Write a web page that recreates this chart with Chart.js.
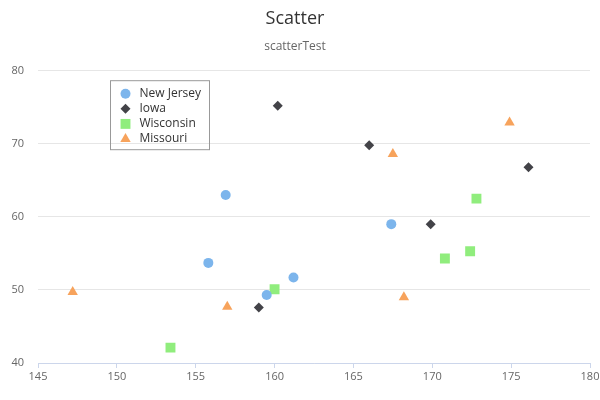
<!DOCTYPE html>
<html>
<head>
<meta charset="utf-8">
<script src="https://cdn.jsdelivr.net/npm/chart.js@4/dist/chart.umd.min.js"></script>
<style>
    html, body { margin: 0; padding: 0; background: #fff; }
    #wrap { width: 600px; height: 400px; position: relative; }
</style>
</head>
<body>
<div id="wrap"><canvas id="scatterChart"></canvas></div>
<script>
// series names and values
const seriesNames = ['New Jersey', 'Iowa', 'Wisconsin', 'Missouri'];

const newJersey = [
    { x: 156.9, y: 63.0 },
    { x: 155.8, y: 53.7 },
    { x: 159.5, y: 49.3 },
    { x: 161.2, y: 51.7 },
    { x: 167.4, y: 59.0 }
];
const iowa = [
    { x: 160.2, y: 75.2 },
    { x: 166.0, y: 69.8 },
    { x: 169.9, y: 59.0 },
    { x: 176.1, y: 66.8 },
    { x: 159.0, y: 47.6 }
];
const wisconsin = [
    { x: 153.4, y: 42.1 },
    { x: 160.0, y: 50.1 },
    { x: 170.8, y: 54.3 },
    { x: 172.4, y: 55.3 },
    { x: 172.8, y: 62.5 }
];
const missouri = [
    { x: 147.2, y: 49.7 },
    { x: 157.0, y: 47.7 },
    { x: 167.5, y: 68.6 },
    { x: 168.2, y: 49.0 },
    { x: 174.9, y: 72.9 }
];

const xTicks = [145, 150, 155, 160, 165, 170, 175, 180];
const yTicks = [40, 50, 60, 70, 80];

const FONT = '"Open Sans", "DejaVu Sans", sans-serif';

function makeSet(label, data, color, style, radius) {
    return {
        label: label,
        data: data,
        backgroundColor: color,
        borderColor: color,
        borderWidth: 0,
        pointStyle: style,
        pointRadius: radius,
        pointHoverRadius: radius
    };
}

// legend box floating inside the plot area, top left
const floatingLegend = {
    id: 'floatingLegend',
    afterDraw(chart) {
        const ctx = chart.ctx;
        const area = chart.chartArea;
        const bx = area.left + 72.5, by = area.top + 10;
        const bw = 99, bh = 69;

        ctx.save();
        ctx.strokeStyle = '#999999';
        ctx.lineWidth = 1;
        ctx.strokeRect(bx, by, bw, bh);

        ctx.font = '12px ' + FONT;
        ctx.textBaseline = 'middle';
        ctx.textAlign = 'left';

        chart.data.datasets.forEach((ds, i) => {
            const cy = by + 13 + i * 15.1;
            const cx = bx + 15;
            ctx.fillStyle = ds.backgroundColor;
            ctx.strokeStyle = ds.backgroundColor;
            Chart.helpers.drawPoint(ctx, {
                pointStyle: ds.pointStyle,
                radius: ds.pointRadius,
                rotation: 0,
                borderWidth: 0
            }, cx, cy);
            ctx.fillStyle = '#333333';
            ctx.fillText(ds.label, bx + 29, cy);
        });
        ctx.restore();
    }
};

const config = {
    type: 'scatter',
    data: {
        datasets: [
            makeSet(seriesNames[0], newJersey, '#7cb5ec', 'circle', 5),
            makeSet(seriesNames[1], iowa, '#434348', 'rectRot', 5),
            makeSet(seriesNames[2], wisconsin, '#90ed7d', 'rect', 7),
            makeSet(seriesNames[3], missouri, '#f7a35c', 'triangle', 6)
        ]
    },
    options: {
        responsive: true,
        maintainAspectRatio: false,
        animation: false,
        events: [],
        layout: {
            padding: { left: 0, right: 10, top: 0, bottom: 0 }
        },
        plugins: {
            legend: { display: false },
            tooltip: { enabled: false },
            title: {
                display: true,
                text: 'Scatter',
                color: '#333333',
                font: { family: FONT, size: 18, weight: 'normal' },
                padding: { top: 8, bottom: 10 }
            },
            subtitle: {
                display: true,
                text: 'scatterTest',
                color: '#666666',
                font: { family: FONT, size: 12, weight: 'normal' },
                padding: { top: 0, bottom: 16.7 }
            }
        },
        scales: {
            x: {
                type: 'linear',
                position: 'bottom',
                min: xTicks[0],
                max: xTicks[xTicks.length - 1],
                afterBuildTicks: (scale) => {
                    scale.ticks = xTicks.map(v => ({ value: v }));
                },
                afterFit: (scale) => {
                    scale.height = 37;
                    // let the layout padding alone decide the right edge
                    scale.paddingLeft = 0;
                    scale.paddingRight = 0;
                },
                ticks: {
                    color: '#666666',
                    font: { family: FONT, size: 11 },
                    padding: 2,
                    maxRotation: 0
                },
                grid: {
                    drawOnChartArea: false,
                    drawTicks: true,
                    tickLength: 5,
                    color: '#ccd6eb'
                },
                border: { display: true, color: '#ccd6eb' }
            },
            y: {
                type: 'linear',
                min: yTicks[0],
                max: yTicks[yTicks.length - 1],
                afterBuildTicks: (scale) => {
                    scale.ticks = yTicks.map(v => ({ value: v }));
                },
                afterFit: (scale) => { scale.width = 38; },
                ticks: {
                    color: '#666666',
                    font: { family: FONT, size: 11 },
                    padding: 14
                },
                grid: {
                    color: '#e6e6e6',
                    drawTicks: false
                },
                border: { display: false }
            }
        }
    },
    plugins: [floatingLegend]
};

const scatterChart = new Chart(
    document.getElementById('scatterChart'),
    config
);
</script>
</body>
</html>
